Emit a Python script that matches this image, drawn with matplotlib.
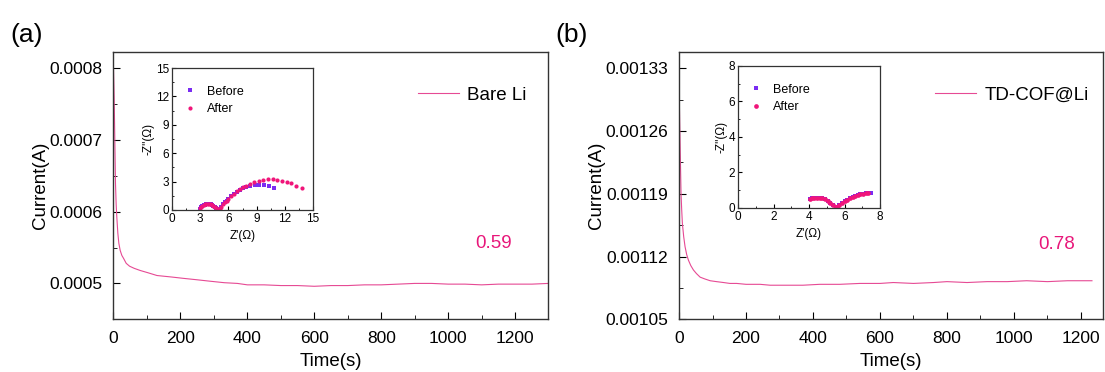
import matplotlib
matplotlib.use('Agg')
import matplotlib.pyplot as plt
from matplotlib.ticker import MultipleLocator

plt.rcParams['font.family'] = ['Liberation Sans', 'DejaVu Sans']

# chronoamperometry curves
t_a = [0, 2, 4, 6, 8, 10, 13, 16, 20, 25, 30, 38, 48, 62, 80, 102, 130, 172, 210, 251, 290, 331,
       370, 400, 450, 500, 550, 600, 650, 700, 750, 800, 850, 900, 950, 1000, 1050, 1100,
       1150, 1200, 1250, 1300]
i_a = [0.00080, 0.00076, 0.00070, 0.000639, 0.000610, 0.000592, 0.000570, 0.000556, 0.000546,
       0.000539, 0.000535, 0.000528, 0.000524, 0.000521, 0.000518, 0.000515, 0.000511, 0.000509,
       0.000507, 0.000505, 0.000503, 0.000501, 0.000500, 0.000498, 0.000498, 0.000497, 0.000497,
       0.000496, 0.000497, 0.000497, 0.000498, 0.000498, 0.000499, 0.000500, 0.000500, 0.000499,
       0.000499, 0.000498, 0.000499, 0.000499, 0.000499, 0.000500]

t_b = [0, 2, 4, 6, 8, 10, 14, 18, 23, 28, 35, 43, 52, 63, 77, 93, 112, 133, 152, 172, 200, 242,
       272, 320, 370, 420, 480, 540, 600, 640, 700, 760, 800, 860, 920, 980, 1038, 1100, 1160,
       1233]
i_b = [0.001313, 0.00127, 0.00123, 0.00119, 0.001172, 0.001157, 0.001142, 0.001131, 0.001122,
       0.001116, 0.001110, 0.001105, 0.001101, 0.001097, 0.001095, 0.001093, 0.001092, 0.001091,
       0.001090, 0.001090, 0.001089, 0.001089, 0.001088, 0.001088, 0.001088, 0.001089, 0.001089,
       0.001090, 0.001090, 0.001091, 0.001090, 0.001091, 0.001092, 0.001091, 0.001092, 0.001092,
       0.001093, 0.001092, 0.001093, 0.001093]

# EIS insets (Z', -Z'')
za_before_x = [3.0, 3.1, 3.2, 3.35, 3.5, 3.65, 3.8, 3.95, 4.1, 4.25, 4.4, 4.55, 4.7, 4.85, 4.95,
               5.05, 5.2, 5.4, 5.6, 5.8, 6.0, 6.3, 6.6, 6.9, 7.2, 7.5, 7.9, 8.3, 8.8, 9.3, 9.8,
               10.3, 10.8]
za_before_y = [0.15, 0.3, 0.4, 0.5, 0.58, 0.62, 0.64, 0.63, 0.6, 0.53, 0.45, 0.35, 0.22, 0.1, 0.05,
               0.15, 0.35, 0.6, 0.8, 1.0, 1.2, 1.45, 1.7, 1.95, 2.12, 2.28, 2.42, 2.53, 2.62, 2.66,
               2.63, 2.52, 2.36]
za_after_x = [3.0, 3.1, 3.2, 3.35, 3.5, 3.65, 3.8, 3.95, 4.1, 4.25, 4.4, 4.55, 4.7, 4.85, 4.95,
              5.05, 5.2, 5.4, 5.6, 5.8, 6.0, 6.3, 6.6, 6.9, 7.2, 7.5, 7.9, 8.3, 8.7, 9.2, 9.7,
              10.2, 10.7, 11.2, 11.7, 12.2, 12.7, 13.2, 13.8]
za_after_y = [0.2, 0.35, 0.45, 0.55, 0.62, 0.66, 0.68, 0.67, 0.63, 0.56, 0.47, 0.36, 0.22, 0.1, 0.05,
              0.15, 0.35, 0.6, 0.8, 1.0, 1.2, 1.47, 1.73, 1.98, 2.2, 2.38, 2.58, 2.76, 2.92, 3.07,
              3.18, 3.24, 3.25, 3.2, 3.1, 2.97, 2.8, 2.58, 2.3]

zb_before_x = [4.05, 4.15, 4.3, 4.45, 4.6, 4.75, 4.9, 5.05, 5.2, 5.35, 5.5, 5.6, 5.7, 5.85, 6.0,
               6.15, 6.3, 6.45, 6.6, 6.75, 6.9, 7.05, 7.2, 7.3, 7.4, 7.47]
zb_before_y = [0.5, 0.54, 0.57, 0.59, 0.58, 0.55, 0.48, 0.4, 0.3, 0.18, 0.08, 0.05, 0.15, 0.28,
               0.38, 0.47, 0.55, 0.62, 0.68, 0.73, 0.78, 0.81, 0.83, 0.84, 0.84, 0.83]
zb_after_x = [4.05, 4.15, 4.3, 4.45, 4.6, 4.75, 4.9, 5.05, 5.2, 5.35, 5.5, 5.6, 5.7, 5.85, 6.0,
              6.15, 6.3, 6.45, 6.6, 6.75, 6.9, 7.05, 7.2, 7.3]
zb_after_y = [0.5, 0.54, 0.57, 0.59, 0.58, 0.55, 0.48, 0.4, 0.3, 0.18, 0.08, 0.05, 0.15, 0.28,
              0.38, 0.47, 0.55, 0.62, 0.68, 0.73, 0.78, 0.81, 0.84, 0.86]

line_col = '#E64A94'
before_col = '#7A2CF2'
after_col = '#F0157A'
num_col = '#E8177A'

fig = plt.figure(figsize=(11.05, 3.72), dpi=100)


def style_main(ax):
    ax.tick_params(direction='in', which='both', labelsize=12.5, top=False, right=False)
    ax.tick_params(which='major', length=5)
    ax.tick_params(which='minor', length=3)
    ax.tick_params(axis='y', pad=8)
    ax.tick_params(axis='x', pad=8.5)
    for s in ax.spines.values():
        s.set_linewidth(1.0)
        s.set_color('#333333')


def style_inset(ax):
    ax.tick_params(direction='in', which='both', labelsize=8.5, pad=2)
    ax.tick_params(which='major', length=3)
    ax.tick_params(which='minor', length=1.5)
    ax.set_xlabel("Z'(Ω)", fontsize=8.5, labelpad=4)
    ax.set_ylabel("-Z''(Ω)", fontsize=8.5, labelpad=1)
    for s in ax.spines.values():
        s.set_linewidth(0.9)
        s.set_color('#333333')


# ---- panel (a)
ax1 = fig.add_axes([0.1027, 0.1417, 0.3932, 0.7194])
ax1.plot(t_a, i_a, color=line_col, lw=0.8, label='Bare Li')
ax1.set_xlim(0, 1298)
ax1.set_ylim(0.00045, 0.000823)
ax1.set_yticks([0.0005, 0.0006, 0.0007, 0.0008])
ax1.set_yticklabels(['0.0005', '0.0006', '0.0007', '0.0008'])
ax1.xaxis.set_major_locator(MultipleLocator(200))
ax1.xaxis.set_minor_locator(MultipleLocator(100))
ax1.yaxis.set_minor_locator(MultipleLocator(0.00005))
ax1.set_xlabel('Time(s)', fontsize=13.5, labelpad=5)
ax1.set_ylabel('Current(A)', fontsize=13.5, labelpad=0)
style_main(ax1)
ax1.legend(loc='center left', bbox_to_anchor=(0.70, 0.838), frameon=False, fontsize=13.5,
           handlelength=2.2, handletextpad=0.45, borderpad=0, borderaxespad=0)
ax1.text(1134, 0.000556, '0.59', color=num_col, fontsize=13.5, ha='center', va='center')

ins1 = fig.add_axes([0.1557, 0.4355, 0.1276, 0.3817])
ins1.plot(za_before_x, za_before_y, 's', color=before_col, ms=2.8, mew=0, label='Before')
ins1.plot(za_after_x, za_after_y, 'o', color=after_col, ms=3.0, mew=0, label='After')
ins1.set_xlim(0, 15)
ins1.set_ylim(0, 15)
ins1.xaxis.set_major_locator(MultipleLocator(3))
ins1.yaxis.set_major_locator(MultipleLocator(3))
ins1.xaxis.set_minor_locator(MultipleLocator(1.5))
ins1.yaxis.set_minor_locator(MultipleLocator(1.5))
style_inset(ins1)
ins1.legend(loc='upper left', bbox_to_anchor=(0.09, 0.875), frameon=False, fontsize=9,
            handletextpad=1.0, markerscale=1.0, borderaxespad=0, borderpad=0,
            labelspacing=0.45, handlelength=0.8)

# ---- panel (b)
ax2 = fig.add_axes([0.6145, 0.1417, 0.3837, 0.7194])
ax2.plot(t_b, i_b, color=line_col, lw=0.8, label='TD-COF@Li')
ax2.set_xlim(0, 1266)
ax2.set_ylim(0.00105, 0.0013485)
ax2.set_yticks([0.00105, 0.00112, 0.00119, 0.00126, 0.00133])
ax2.set_yticklabels(['0.00105', '0.00112', '0.00119', '0.00126', '0.00133'])
ax2.xaxis.set_major_locator(MultipleLocator(200))
ax2.xaxis.set_minor_locator(MultipleLocator(100))
ax2.yaxis.set_minor_locator(MultipleLocator(0.000035))
ax2.set_xlabel('Time(s)', fontsize=13.5, labelpad=5)
ax2.set_ylabel('Current(A)', fontsize=13.5, labelpad=0)
style_main(ax2)
ax2.legend(loc='center left', bbox_to_anchor=(0.604, 0.838), frameon=False, fontsize=13.5,
           handlelength=2.2, handletextpad=0.45, borderpad=0, borderaxespad=0)
ax2.text(1128, 0.001133, '0.78', color=num_col, fontsize=13.5, ha='center', va='center')

ins2 = fig.add_axes([0.6679, 0.4409, 0.1285, 0.3817])
ins2.plot(zb_before_x, zb_before_y, 's', color=before_col, ms=3.2, mew=0, label='Before')
ins2.plot(zb_after_x, zb_after_y, 'o', color=after_col, ms=3.4, mew=0, label='After')
ins2.set_xlim(0, 8)
ins2.set_ylim(0, 8)
ins2.xaxis.set_major_locator(MultipleLocator(2))
ins2.yaxis.set_major_locator(MultipleLocator(2))
ins2.xaxis.set_minor_locator(MultipleLocator(1))
ins2.yaxis.set_minor_locator(MultipleLocator(1))
style_inset(ins2)
ins2.legend(loc='upper left', bbox_to_anchor=(0.09, 0.875), frameon=False, fontsize=9,
            handletextpad=1.0, markerscale=1.0, borderaxespad=0, borderpad=0,
            labelspacing=0.45, handlelength=0.8)

fig.text(0.009, 0.905, '(a)', fontsize=19, va='center', ha='left')
fig.text(0.503, 0.905, '(b)', fontsize=19, va='center', ha='left')

fig.savefig('out.png', dpi=100)
